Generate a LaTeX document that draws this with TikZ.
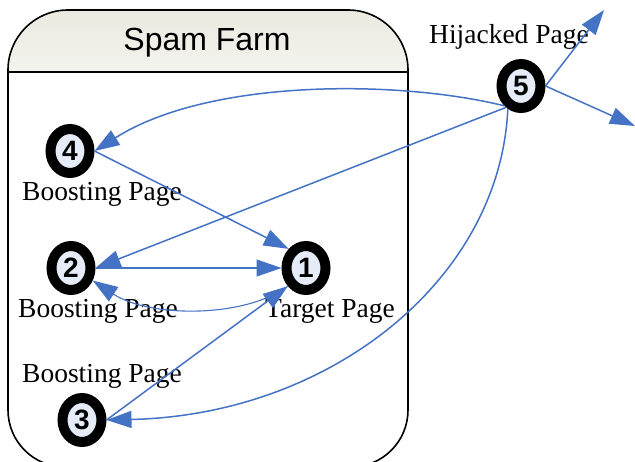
\documentclass[tikz,border=0pt]{standalone}
\usepackage{fontspec}
\setmainfont{Liberation Serif}
\setsansfont{Liberation Sans}
\usetikzlibrary{arrows.meta,shapes.geometric}
\definecolor{linkblue}{RGB}{68,114,196}
\definecolor{pagefill}{RGB}{230,236,247}
\definecolor{headtop}{RGB}{234,234,224}
\tikzset{
  page/.style={ellipse, draw=black, line width=10pt, fill=pagefill,
    minimum width=39pt, minimum height=44pt, inner sep=0pt,
    font=\sffamily\bfseries\fontsize{28}{28}\selectfont},
  caption/.style={anchor=base, inner sep=0pt, font=\fontsize{27.5}{28}\selectfont},
  link/.style={draw=linkblue, line width=1.5pt,
    -{Triangle[length=25pt,width=17pt]}},
  thinlink/.style={link, line width=1.1pt},
  farm/.style={draw=black, line width=1.6pt}
}
\begin{document}
\begin{tikzpicture}[x=1pt,y=-1pt]
\useasboundingbox (0,0) rectangle (635,461);
\clip (0,0) rectangle (635,461);

% spam farm container: shaded title bar and outline
\begin{scope}
  \clip (0,0) rectangle (635,72);
  \shade[top color=headtop, bottom color=white, rounded corners=60pt]
    (8,140) -- (8,10) -- (408,10) -- (408,140) -- cycle;
\end{scope}
\draw[farm, rounded corners=60pt] (8,250) -- (8,10) -- (408,10) -- (408,250);
\draw[farm, rounded corners=57pt] (8,249) -- (8,467) -- (408,467) -- (408,249);
\draw[farm] (8,72) -- (408,72);
\node[anchor=base, inner sep=0pt, font=\sffamily\fontsize{32}{32}\selectfont]
  (title) at (207,50) {Spam Farm};

% pages
\node[page] (n1) at (306,268) {1};
\node[page] (n2) at (71,268) {2};
\node[page] (n3) at (82,420) {3};
\node[page] (n4) at (70,151) {4};
\node[page] (n5) at (521,86) {5};

% captions
\node[caption] (c4) at (102,200) {Boosting Page};
\node[caption] (c2) at (98,317) {Boosting Page};
\node[caption] (c1) at (330,317) {Target Page};
\node[caption] (c3) at (102,382) {Boosting Page};
\node[caption] (c5) at (509,43) {Hijacked Page};

% outgoing links of the hijacked page
\coordinate (out1) at (604,10);
\coordinate (out2) at (635,126);

% links
\draw[link] (n5.230) .. controls (400,80) and (210,78) .. (n4.east);
\draw[link] (n5.235) -- (n2.east);
\draw[link] (n5.240) .. controls (500,280) and (330,415) .. (n3.east);
\draw[link] (n5.east) -- (out1);
\draw[link] (n5.east) -- (out2);
\draw[link] (n4.east) -- (n1.north west);
\draw[thinlink] (n2.east) -- (n1.west);
\draw[thinlink] (n1.225) .. controls (245,318) and (150,318) .. (n2.-30);
\draw[link] (n3.east) -- (n1.225);
\end{tikzpicture}
\end{document}
